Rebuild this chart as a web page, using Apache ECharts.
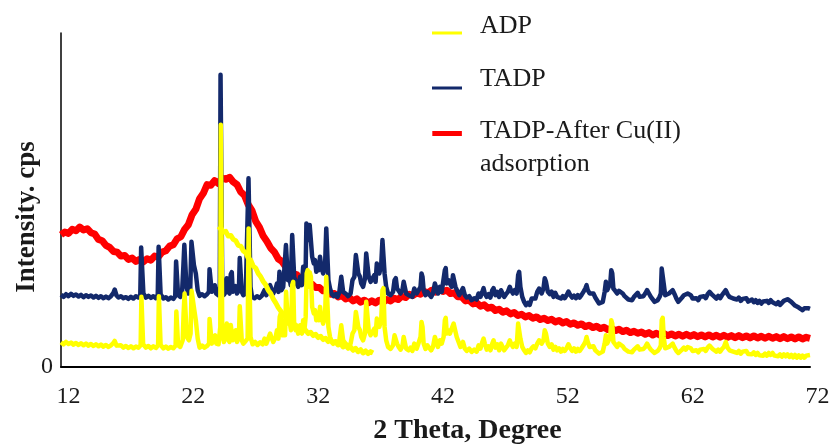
<!DOCTYPE html>
<html>
<head>
<meta charset="utf-8">
<title>XRD patterns</title>
<script src="https://cdn.jsdelivr.net/npm/echarts@6/dist/echarts.min.js"></script>
<style>
  html, body { margin: 0; padding: 0; background: #ffffff; }
  #chart { width: 829px; height: 445px; }
</style>
</head>
<body>
<div id="chart"></div>
<script>
// 2θ tick labels
const xTicks = [12, 22, 32, 42, 52, 62, 72];

// Series names
const names = ['ADP', 'TADP', 'TADP-After Cu(II) adsorption'];

// TADP-After Cu(II) adsorption: broad amorphous halo, [2θ, intensity]
const redPattern = [
  [12.0,39.6],[12.3,40.4],[12.6,40.0],[12.9,41.2],[13.2,40.8],[13.5,41.9],[13.8,41.0],[14.1,41.4],[14.4,40.2],[14.7,39.8],
  [15.0,38.2],[15.3,37.8],[15.6,36.4],[15.9,35.8],[16.2,34.6],[16.5,34.4],[16.8,33.2],[17.1,33.4],[17.4,32.2],[17.7,32.6],
  [18.0,31.6],[18.3,32.2],[18.6,31.5],[18.9,32.4],[19.2,32.0],[19.5,33.2],[19.8,33.0],[20.1,34.4],[20.4,34.8],[20.7,36.2],
  [21.0,36.6],[21.3,38.4],[21.6,39.0],[21.9,41.2],[22.2,42.6],[22.5,45.6],[22.8,47.2],[23.1,50.4],[23.4,52.0],[23.7,54.6],
  [24.0,54.4],[24.3,55.8],[24.6,55.0],[24.9,56.6],[25.2,56.2],[25.5,56.8],[25.8,55.4],[26.1,54.6],[26.4,52.4],[26.7,51.4],
  [27.0,48.6],[27.3,46.8],[27.6,43.6],[27.9,41.8],[28.2,39.2],[28.5,37.6],[28.8,35.6],[29.1,34.4],[29.4,32.4],[29.7,31.6],
  [30.0,30.0],[30.3,29.4],[30.6,28.0],[30.9,27.6],[31.2,26.4],[31.5,26.2],[31.8,25.0],[32.1,24.8],[32.4,23.8],[32.7,23.8],
  [33.0,22.8],[33.3,22.8],[33.6,21.8],[33.9,22.0],[34.2,21.0],[34.5,21.4],[34.8,20.4],[35.1,20.8],[35.4,19.8],[35.7,20.4],
  [36.0,19.4],[36.3,20.0],[36.6,19.2],[36.9,19.8],[37.2,19.2],[37.5,20.0],[37.8,19.4],[38.1,20.2],[38.4,19.8],[38.7,20.6],
  [39.0,20.2],[39.3,21.2],[39.6,20.8],[39.9,21.8],[40.2,21.4],[40.5,22.2],[40.8,21.8],[41.1,22.6],[41.4,22.2],[41.7,23.0],
  [42.0,22.4],[42.3,23.2],[42.6,22.6],[42.9,23.0],[43.2,22.0],[43.5,22.2],[43.8,21.0],[44.1,21.0],[44.4,19.8],[44.7,20.0],
  [45.0,18.9],[45.3,19.2],[45.6,18.2],[45.9,18.6],[46.2,17.6],[46.5,17.9],[46.8,16.9],[47.1,17.3],[47.4,16.4],[47.7,16.8],
  [48.0,15.9],[48.3,16.3],[48.6,15.4],[48.9,15.8],[49.2,15.0],[49.5,15.4],[49.8,14.6],[50.1,15.0],[50.4,14.2],[50.7,14.6],
  [51.0,13.9],[51.3,14.3],[51.6,13.5],[51.9,13.9],[52.2,13.2],[52.5,13.6],[52.8,12.8],[53.1,13.2],[53.4,12.5],[53.7,12.9],
  [54.0,12.1],[54.3,12.5],[54.6,11.8],[54.9,12.2],[55.2,11.5],[55.5,11.9],[55.8,11.2],[56.1,11.6],[56.4,10.9],[56.7,11.3],
  [57.0,10.6],[57.3,11.0],[57.6,10.3],[57.9,10.7],[58.2,10.1],[58.5,10.5],[58.8,9.8],[59.1,10.3],[59.4,9.6],[59.7,10.1],
  [60.0,9.5],[60.3,10.0],[60.6,9.4],[60.9,9.9],[61.2,9.3],[61.5,9.8],[61.8,9.2],[62.1,9.8],[62.4,9.2],[62.7,9.7],
  [63.0,9.1],[63.3,9.6],[63.6,9.0],[63.9,9.6],[64.2,9.0],[64.5,9.5],[64.8,8.9],[65.1,9.5],[65.4,8.9],[65.7,9.4],
  [66.0,8.8],[66.3,9.4],[66.6,8.8],[66.9,9.3],[67.2,8.7],[67.5,9.3],[67.8,8.7],[68.1,9.2],[68.4,8.6],[68.7,9.2],
  [69.0,8.6],[69.3,9.1],[69.6,8.5],[69.9,9.1],[70.2,8.5],[70.5,9.0],[70.8,8.4],[71.1,9.0],[71.4,8.4],[71.7,8.9],[72.0,8.6]
];

// TADP pattern, [2θ, intensity]
const tadpPattern = [
  [12.0,21.6],[12.2,21.0],[12.4,21.8],[12.6,21.2],[12.8,21.9],[13.0,21.3],[13.2,21.7],[13.4,21.1],[13.6,21.6],[13.8,20.9],
  [14.0,21.5],[14.2,21.0],[14.4,21.4],[14.6,20.8],[14.8,21.3],[15.0,20.7],[15.2,21.2],[15.4,20.6],[15.6,21.1],[15.8,20.6],
  [16.0,21.2],[16.2,22.2],[16.3,23.2],[16.45,21.4],[16.6,20.8],[16.8,21.2],[17.0,20.6],[17.2,20.9],[17.4,20.4],[17.6,21.0],
  [17.8,20.5],[18.0,21.2],[18.2,20.8],[18.35,21.5],[18.42,35.8],[18.52,36.2],[18.6,22.0],[18.8,20.8],[19.0,21.3],[19.2,20.7],
  [19.4,21.2],[19.6,20.6],[19.75,21.6],[19.82,36.0],[19.9,36.5],[19.98,21.8],[20.2,20.5],[20.4,20.9],[20.6,20.2],[20.8,20.8],
  [21.0,20.4],[21.15,21.2],[21.22,31.6],[21.3,32.0],[21.38,21.6],[21.55,21.0],[21.7,22.5],[21.8,30.0],[21.88,36.6],[21.96,37.0],
  [22.05,24.0],[22.2,22.0],[22.35,23.0],[22.45,37.5],[22.55,38.0],[22.65,30.5],[22.8,28.0],[22.95,23.0],[23.1,21.3],[23.3,21.8],
  [23.5,21.2],[23.7,21.8],[23.85,22.5],[23.9,29.3],[24.0,29.6],[24.08,22.5],[24.25,23.5],[24.32,24.5],[24.42,22.0],[24.6,21.5],
  [24.72,24.0],[24.78,87.5],[24.86,88.0],[24.92,23.0],[25.05,21.6],[25.2,22.5],[25.28,26.6],[25.36,22.8],[25.5,22.0],[25.6,27.8],
  [25.68,28.4],[25.76,22.5],[25.9,22.8],[26.0,24.2],[26.1,22.0],[26.25,23.0],[26.32,32.6],[26.4,33.0],[26.48,22.5],[26.6,21.5],
  [26.8,22.0],[26.95,22.5],[27.02,56.5],[27.1,57.0],[27.18,24.0],[27.3,21.0],[27.5,20.6],[27.7,21.2],[27.9,20.7],[28.1,21.4],
  [28.3,23.0],[28.45,21.5],[28.6,22.0],[28.75,24.5],[28.85,23.5],[29.0,22.0],[29.2,23.5],[29.3,25.0],[29.42,22.5],[29.5,28.5],
  [29.58,29.0],[29.66,23.0],[29.8,24.0],[29.95,23.5],[30.02,36.5],[30.1,37.0],[30.18,26.0],[30.3,27.0],[30.4,24.5],[30.52,39.5],
  [30.6,40.0],[30.68,27.0],[30.8,25.5],[30.9,26.0],[31.0,24.0],[31.15,27.0],[31.3,24.5],[31.4,30.0],[31.5,26.0],[31.6,30.0],
  [31.66,43.0],[31.74,43.4],[31.84,38.0],[31.92,42.5],[32.02,42.0],[32.12,33.0],[32.25,31.0],[32.35,32.0],[32.45,28.5],[32.55,30.0],
  [32.65,29.0],[32.75,33.0],[32.85,30.0],[33.0,28.0],[33.15,30.0],[33.25,41.5],[33.33,42.0],[33.42,26.0],[33.55,23.5],[33.7,21.8],
  [33.85,21.2],[34.0,21.8],[34.15,21.0],[34.3,22.5],[34.45,27.0],[34.52,27.5],[34.6,22.5],[34.8,22.0],[35.0,21.2],[35.2,22.0],
  [35.35,26.0],[35.5,27.0],[35.62,33.5],[35.72,34.0],[35.82,28.0],[35.95,27.0],[36.05,25.0],[36.2,24.0],[36.35,26.5],[36.45,34.0],
  [36.55,34.5],[36.65,27.0],[36.8,25.5],[36.95,26.0],[37.1,27.5],[37.2,25.5],[37.3,31.0],[37.38,31.5],[37.5,28.0],[37.65,30.5],
  [37.75,38.0],[37.83,38.0],[37.92,28.0],[38.05,24.0],[38.2,22.0],[38.4,21.5],[38.6,22.5],[38.72,26.0],[38.82,26.6],[38.92,23.5],
  [39.05,23.0],[39.2,22.0],[39.35,23.0],[39.45,25.5],[39.55,25.0],[39.65,22.0],[39.85,21.5],[40.0,22.0],[40.15,21.0],[40.3,23.5],
  [40.4,24.0],[40.5,22.0],[40.65,21.5],[40.8,24.0],[40.88,28.0],[40.96,27.0],[41.05,23.0],[41.2,21.5],[41.35,22.5],[41.5,23.0],
  [41.65,21.0],[41.8,22.0],[41.95,25.0],[42.05,24.5],[42.2,22.0],[42.35,24.0],[42.5,22.5],[42.65,23.0],[42.75,29.0],[42.82,29.6],
  [42.9,25.0],[43.05,26.0],[43.15,25.0],[43.3,24.0],[43.4,27.5],[43.48,27.0],[43.6,24.0],[43.75,23.5],[43.9,21.5],[44.05,22.0],
  [44.2,23.6],[44.35,21.5],[44.5,20.8],[44.7,21.2],[44.9,20.0],[45.1,20.6],[45.3,20.2],[45.45,22.0],[45.6,21.0],[45.75,22.5],
  [45.85,23.6],[45.95,22.0],[46.1,21.0],[46.25,21.8],[46.4,20.8],[46.55,23.0],[46.65,23.6],[46.8,21.5],[46.95,22.5],[47.1,21.0],
  [47.25,23.0],[47.35,22.5],[47.5,21.0],[47.65,21.8],[47.8,22.5],[47.95,24.0],[48.05,23.0],[48.2,22.0],[48.35,23.0],[48.5,22.0],
  [48.62,27.5],[48.7,28.5],[48.8,24.0],[48.95,21.0],[49.1,19.5],[49.25,18.5],[49.4,19.2],[49.55,18.6],[49.7,20.5],[49.85,21.0],
  [50.0,20.5],[50.15,22.5],[50.3,23.5],[50.4,24.0],[50.5,22.0],[50.65,23.5],[50.75,26.6],[50.85,25.5],[51.0,22.5],[51.15,21.8],
  [51.3,22.6],[51.45,21.0],[51.6,22.2],[51.75,21.0],[51.9,21.5],[52.05,20.5],[52.2,21.2],[52.35,20.6],[52.5,21.5],[52.65,22.6],
  [52.8,21.5],[52.95,20.8],[53.1,21.4],[53.25,20.6],[53.4,21.5],[53.55,20.8],[53.7,21.6],[53.85,22.5],[54.0,23.5],[54.1,24.5],
  [54.2,23.0],[54.35,22.0],[54.5,21.5],[54.65,22.0],[54.8,20.8],[54.95,20.3],[55.1,19.0],[55.25,18.5],[55.4,19.5],[55.55,22.5],
  [55.65,25.5],[55.75,23.0],[55.88,22.5],[56.0,25.0],[56.08,29.0],[56.16,28.0],[56.25,23.5],[56.4,22.8],[56.55,22.0],[56.7,22.8],
  [56.85,23.2],[57.0,22.0],[57.15,21.2],[57.3,21.0],[57.45,20.2],[57.6,20.6],[57.75,20.0],[57.9,21.0],[58.05,21.5],[58.2,22.2],
  [58.35,21.0],[58.5,20.5],[58.65,21.2],[58.8,22.0],[58.95,23.0],[59.1,22.0],[59.25,21.0],[59.4,20.5],[59.55,19.5],[59.65,19.0],
  [59.8,20.0],[59.95,21.0],[60.05,22.0],[60.12,29.5],[60.2,30.0],[60.28,25.0],[60.4,21.5],[60.55,21.0],[60.7,22.0],[60.85,22.5],
  [61.0,23.0],[61.15,21.8],[61.3,20.5],[61.45,19.5],[61.6,20.0],[61.75,20.8],[61.9,21.5],[62.05,21.0],[62.2,22.0],[62.3,22.5],
  [62.45,21.5],[62.6,20.5],[62.75,20.0],[62.9,20.6],[63.05,20.0],[63.2,21.0],[63.35,20.5],[63.5,21.2],[63.65,20.6],[63.8,21.8],
  [63.95,22.5],[64.05,23.0],[64.2,21.5],[64.35,22.0],[64.5,20.5],[64.65,21.3],[64.8,20.6],[64.95,21.5],[65.1,22.0],[65.25,23.0],
  [65.4,21.8],[65.55,21.0],[65.7,21.5],[65.85,20.5],[66.0,21.0],[66.15,20.2],[66.3,20.8],[66.45,19.8],[66.6,20.4],[66.75,20.0],
  [66.9,20.6],[67.05,19.6],[67.2,19.5],[67.35,20.2],[67.5,19.4],[67.65,20.0],[67.8,19.2],[67.95,19.8],[68.1,19.0],[68.25,19.6],
  [68.4,19.1],[68.55,19.8],[68.7,19.2],[68.85,20.0],[69.0,19.4],[69.15,19.9],[69.3,18.8],[69.45,19.4],[69.6,18.6],[69.75,19.2],
  [69.9,19.8],[70.05,19.6],[70.2,20.3],[70.35,20.6],[70.5,19.5],[70.65,19.0],[70.8,18.4],[70.95,18.8],[71.1,17.8],[71.25,17.4],
  [71.4,17.0],[71.55,17.6],[71.7,17.2],[71.85,17.6],[72.0,17.4]
];

// ADP pattern, [2θ, intensity]
const adpPattern = [
  [12.0,7.4],[12.2,6.8],[12.4,7.5],[12.6,6.9],[12.8,7.3],[13.0,6.7],[13.2,7.2],[13.4,6.6],[13.6,7.1],[13.8,6.5],
  [14.0,7.0],[14.2,6.4],[14.4,6.9],[14.6,6.3],[14.8,6.8],[15.0,6.2],[15.2,6.7],[15.4,6.1],[15.6,6.6],[15.8,6.0],
  [16.0,6.5],[16.2,7.2],[16.3,7.8],[16.45,6.4],[16.6,6.0],[16.8,6.5],[17.0,5.8],[17.2,6.3],[17.4,5.7],[17.6,6.2],
  [17.8,5.6],[18.0,6.1],[18.2,5.8],[18.38,6.5],[18.44,21.0],[18.52,21.5],[18.58,6.8],[18.8,5.8],[19.0,6.3],[19.2,5.6],
  [19.4,6.2],[19.6,5.7],[19.78,6.5],[19.84,21.2],[19.92,21.5],[19.98,6.6],[20.2,5.6],[20.4,6.1],[20.6,5.5],[20.8,6.0],
  [21.0,5.6],[21.18,6.4],[21.24,16.6],[21.32,17.0],[21.38,6.5],[21.55,6.0],[21.75,8.0],[21.82,16.0],[21.9,22.0],[21.98,21.5],
  [22.08,9.0],[22.25,8.0],[22.38,10.0],[22.46,22.8],[22.54,23.0],[22.64,18.0],[22.8,14.0],[22.95,8.5],[23.1,5.8],[23.3,6.4],
  [23.5,5.8],[23.7,6.3],[23.86,7.0],[23.9,14.4],[24.0,14.7],[24.08,7.0],[24.25,8.5],[24.35,9.5],[24.45,7.0],[24.62,6.8],
  [24.76,12.0],[24.8,72.5],[24.86,73.0],[24.92,10.0],[25.05,7.5],[25.2,9.0],[25.28,13.0],[25.36,8.5],[25.5,7.5],[25.6,12.6],
  [25.68,13.0],[25.76,8.0],[25.9,8.5],[26.0,11.0],[26.1,7.5],[26.25,9.0],[26.32,18.2],[26.4,18.5],[26.48,8.0],[26.6,7.0],
  [26.8,7.8],[26.95,8.5],[27.03,41.5],[27.1,42.0],[27.18,9.0],[27.35,6.8],[27.55,7.5],[27.75,6.6],[27.95,7.4],[28.15,6.8],
  [28.3,8.5],[28.45,7.0],[28.6,7.5],[28.75,10.0],[28.85,9.0],[29.0,7.5],[29.2,9.0],[29.3,11.0],[29.42,8.5],[29.52,15.0],
  [29.6,16.0],[29.68,9.5],[29.8,10.0],[29.95,9.5],[30.03,22.5],[30.1,23.0],[30.18,13.0],[30.3,14.0],[30.42,11.0],[30.52,24.5],
  [30.6,25.5],[30.68,12.0],[30.8,11.0],[30.9,12.0],[31.0,10.0],[31.15,12.5],[31.3,10.0],[31.4,14.0],[31.5,11.0],[31.6,15.0],
  [31.68,28.0],[31.76,29.0],[31.84,24.0],[31.92,28.4],[32.02,27.0],[32.12,18.0],[32.25,16.0],[32.35,17.0],[32.45,14.0],[32.55,15.5],
  [32.65,14.0],[32.75,18.0],[32.85,15.0],[33.0,13.0],[33.15,15.0],[33.25,27.0],[33.33,27.5],[33.42,12.0],[33.55,9.0],[33.7,7.5],
  [33.85,7.0],[34.0,7.6],[34.15,6.8],[34.3,8.0],[34.45,12.5],[34.52,13.0],[34.6,8.0],[34.8,7.0],[35.0,6.2],[35.2,7.0],
  [35.35,10.0],[35.5,11.0],[35.62,16.5],[35.72,17.0],[35.82,12.0],[35.95,11.0],[36.05,9.0],[36.2,8.0],[36.35,10.0],[36.45,19.5],
  [36.55,20.0],[36.65,11.0],[36.8,9.5],[36.95,10.0],[37.1,11.5],[37.2,9.5],[37.3,14.5],[37.38,15.0],[37.5,12.0],[37.65,14.0],
  [37.75,23.0],[37.83,23.6],[37.92,12.0],[38.05,8.0],[38.2,6.0],[38.4,5.4],[38.6,6.5],[38.72,9.5],[38.82,10.0],[38.92,7.0],
  [39.05,6.0],[39.2,5.2],[39.35,6.2],[39.45,9.0],[39.55,8.5],[39.65,5.5],[39.85,5.0],[40.0,5.8],[40.15,4.8],[40.3,7.0],
  [40.4,7.5],[40.5,5.5],[40.65,5.0],[40.8,9.0],[40.88,13.5],[40.96,12.0],[41.05,7.0],[41.2,5.4],[41.35,6.5],[41.5,7.0],
  [41.65,5.0],[41.8,6.0],[41.95,9.0],[42.05,8.5],[42.2,6.0],[42.35,8.0],[42.5,7.0],[42.65,9.0],[42.75,14.0],[42.82,14.7],
  [42.9,10.0],[43.05,11.0],[43.15,10.0],[43.3,9.5],[43.45,13.0],[43.55,12.5],[43.7,9.0],[43.85,7.5],[44.0,6.0],[44.2,7.5],
  [44.35,5.5],[44.5,4.8],[44.7,5.5],[44.9,4.5],[45.1,5.2],[45.3,4.6],[45.45,6.5],[45.6,5.5],[45.75,7.5],[45.85,8.5],
  [45.95,7.0],[46.1,5.2],[46.25,6.2],[46.4,5.0],[46.55,7.0],[46.65,8.0],[46.8,5.8],[46.95,6.8],[47.1,5.0],[47.25,7.0],
  [47.35,6.5],[47.5,5.0],[47.65,5.8],[47.8,6.5],[47.95,8.0],[48.05,7.0],[48.2,6.0],[48.35,7.0],[48.5,6.0],[48.62,13.0],
  [48.7,13.5],[48.8,8.5],[48.95,6.0],[49.1,5.0],[49.25,4.2],[49.4,5.0],[49.55,4.4],[49.7,5.6],[49.85,6.2],[50.0,5.6],
  [50.15,7.0],[50.3,8.0],[50.4,8.5],[50.5,7.0],[50.65,8.0],[50.75,11.0],[50.85,10.0],[51.0,7.0],[51.15,6.0],[51.3,6.8],
  [51.45,5.2],[51.6,6.0],[51.75,5.0],[51.9,5.6],[52.05,4.6],[52.2,5.4],[52.35,4.8],[52.5,5.6],[52.65,6.8],[52.8,5.6],
  [52.95,4.8],[53.1,5.6],[53.25,4.6],[53.4,5.4],[53.55,4.8],[53.7,5.6],[53.85,6.5],[54.0,7.5],[54.1,9.0],[54.2,7.5],
  [54.35,6.0],[54.5,5.6],[54.65,6.2],[54.8,5.0],[54.95,4.6],[55.1,4.0],[55.25,3.8],[55.4,4.6],[55.55,7.0],[55.65,9.5],
  [55.75,7.0],[55.88,6.5],[56.0,9.0],[56.08,14.0],[56.16,13.0],[56.25,7.5],[56.4,7.0],[56.55,6.0],[56.7,7.0],[56.85,7.5],
  [57.0,6.2],[57.15,5.4],[57.3,5.2],[57.45,4.6],[57.6,5.0],[57.75,4.4],[57.9,5.2],[58.05,5.6],[58.2,6.2],[58.35,5.2],
  [58.5,4.8],[58.65,5.4],[58.8,6.0],[58.95,7.0],[59.1,6.0],[59.25,5.2],[59.4,4.8],[59.55,4.2],[59.65,4.0],[59.8,4.8],
  [59.95,5.6],[60.05,6.5],[60.12,14.0],[60.2,14.7],[60.28,9.0],[60.4,5.6],[60.55,5.2],[60.7,6.0],[60.85,6.4],[61.0,7.0],
  [61.15,5.8],[61.3,4.8],[61.45,4.2],[61.6,4.6],[61.75,5.2],[61.9,5.8],[62.05,5.2],[62.2,6.0],[62.3,6.5],[62.45,5.6],
  [62.6,4.8],[62.75,4.4],[62.9,5.0],[63.05,4.4],[63.2,5.2],[63.35,4.8],[63.5,5.4],[63.65,4.8],[63.8,5.8],[63.95,6.4],
  [64.05,6.8],[64.2,5.4],[64.35,5.8],[64.5,4.6],[64.65,5.2],[64.8,4.6],[64.95,5.4],[65.1,6.0],[65.25,7.5],[65.4,5.8],
  [65.55,5.0],[65.7,5.4],[65.85,4.6],[66.0,5.0],[66.15,4.2],[66.3,4.8],[66.45,4.0],[66.6,4.6],[66.75,4.2],[66.9,4.8],
  [67.05,3.9],[67.2,4.4],[67.35,3.8],[67.5,4.4],[67.65,3.6],[67.8,4.2],[67.95,3.5],[68.1,4.0],[68.25,3.4],[68.4,4.0],
  [68.55,3.4],[68.7,4.2],[68.85,3.6],[69.0,4.2],[69.15,3.4],[69.3,3.9],[69.45,3.2],[69.6,3.8],[69.75,3.1],[69.9,3.8],
  [70.05,3.2],[70.2,3.8],[70.35,3.0],[70.5,3.6],[70.65,2.9],[70.8,3.6],[70.95,2.8],[71.1,3.5],[71.25,2.8],[71.4,3.4],
  [71.55,2.8],[71.7,3.4],[71.85,3.0],[72.0,3.6]
];

// ADP: second trace of the broad decay after the main reflection
const adpDecay = [
  [24.6,41.0],[24.8,41.6],[25.0,40.4],[25.2,40.6],[25.4,39.2],[25.6,39.4],[25.8,38.2],[26.0,37.8],[26.2,36.4],[26.4,36.2],
  [26.6,34.8],[26.8,34.2],[27.0,32.6],[27.2,32.0],[27.4,30.2],[27.6,29.6],[27.8,28.0],[28.0,27.0],[28.2,25.6],[28.4,24.6],
  [28.6,23.0],[28.8,22.0],[29.0,20.4],[29.2,19.2],[29.4,17.8],[29.6,16.8],[29.8,15.6],[30.0,15.0],[30.2,13.8],[30.4,13.6],
  [30.6,12.6],[30.8,12.6],[31.0,11.6],[31.2,11.8],[31.4,10.8],[31.6,11.0],[31.8,10.0],[32.0,10.4],[32.2,9.4],[32.4,9.8],
  [32.6,8.8],[32.8,9.2],[33.0,8.2],[33.2,8.6],[33.4,7.6],[33.6,8.0],[33.8,7.0],[34.0,7.6],[34.2,6.6],[34.4,7.0],
  [34.6,6.0],[34.8,6.6],[35.0,5.6],[35.2,6.0],[35.4,5.0],[35.6,5.6],[35.8,4.6],[36.0,5.2],[36.2,4.2],[36.4,4.8],
  [36.6,4.0],[36.8,4.6],[37.0,4.2]
];

const COLORS = { adp: '#FFFF00', tadp: '#13296B', cu: '#FF0000' };
const SERIF = '"Liberation Serif", "Times New Roman", serif';
const TEXT = '#1a1a1a';

// Legend keys: short bars placed inside a 43x34 box so the label sits to their right
const legendIcons = [
  'path://M0,0 M0,22.6 L30,22.6 L30,25.4 L0,25.4 Z M43,34',
  'path://M0,0 M0,24.6 L30,24.6 L30,27.4 L0,27.4 Z M43,34',
  'path://M0,0 M0,-0.5 L30,-0.5 L30,4.5 L0,4.5 Z M43,34'
];

const chart = echarts.init(document.getElementById('chart'), null, { renderer: 'canvas' });

const lineBase = { type: 'line', showSymbol: false, symbol: 'none', sampling: null };

chart.setOption({
  animation: false,
  backgroundColor: '#ffffff',
  textStyle: { fontFamily: SERIF },
  grid: { left: 61, right: 19, top: 33, bottom: 78, containLabel: false, outerBoundsMode: 'none' },
  legend: {
    orient: 'vertical',
    left: 432,
    top: 9,
    padding: 0,
    itemGap: 19,
    itemWidth: 43,
    itemHeight: 34,
    selectedMode: false,
    itemStyle: { borderWidth: 0 },
    textStyle: { fontFamily: SERIF, fontSize: 26, lineHeight: 33, color: TEXT },
    formatter: n => n === names[2] ? 'TADP-After Cu(II)\nadsorption' : n,
    data: [
      { name: names[0], icon: legendIcons[0], itemStyle: { color: COLORS.adp, borderWidth: 0 } },
      { name: names[1], icon: legendIcons[1], itemStyle: { color: COLORS.tadp, borderWidth: 0 } },
      { name: names[2], icon: legendIcons[2], itemStyle: { color: COLORS.cu, borderWidth: 0 } }
    ]
  },
  xAxis: {
    type: 'value',
    min: xTicks[0],
    max: xTicks[xTicks.length - 1],
    interval: 10,
    name: '2 Theta, Degree',
    nameLocation: 'middle',
    nameGap: 50,
    nameMoveOverlap: false,
    nameTextStyle: { fontFamily: SERIF, fontSize: 28, fontWeight: 'bold', color: TEXT, padding: [0, 0, 0, 64] },
    axisLine: { show: true, lineStyle: { color: '#000', width: 2 } },
    axisTick: { show: false },
    splitLine: { show: false },
    axisLabel: {
      fontFamily: SERIF, fontSize: 24, color: TEXT, margin: 18, padding: [0, 0, 0, 15],
      showMinLabel: true, showMaxLabel: true,
      formatter: v => xTicks.includes(v) ? String(v) : ''
    }
  },
  yAxis: {
    type: 'value',
    min: 0,
    max: 100,
    interval: 100,
    name: 'Intensity. cps',
    nameLocation: 'middle',
    nameRotate: 90,
    nameGap: 20,
    nameMoveOverlap: false,
    nameTextStyle: { fontFamily: SERIF, fontSize: 27, fontWeight: 'bold', color: TEXT, padding: [0, 34, 0, 0] },
    axisLine: { show: true, lineStyle: { color: '#000', width: 1.5 } },
    axisTick: { show: false },
    splitLine: { show: false },
    axisLabel: {
      fontFamily: SERIF, fontSize: 24, color: TEXT, margin: 8, padding: [12, 0, 0, 0],
      formatter: v => v === 0 ? '0' : ''
    }
  },
  series: [
    Object.assign({}, lineBase, {
      name: names[2], data: redPattern, z: 2,
      lineStyle: { color: COLORS.cu, width: 7, join: 'round' }, itemStyle: { color: COLORS.cu }
    }),
    Object.assign({}, lineBase, {
      name: names[1], data: tadpPattern, z: 3,
      lineStyle: { color: COLORS.tadp, width: 4.5, join: 'round' }, itemStyle: { color: COLORS.tadp }
    }),
    Object.assign({}, lineBase, {
      name: names[0], data: adpPattern, z: 4,
      lineStyle: { color: COLORS.adp, width: 4.5, join: 'round' }, itemStyle: { color: COLORS.adp }
    }),
    Object.assign({}, lineBase, {
      name: names[0], data: adpDecay, z: 4,
      lineStyle: { color: COLORS.adp, width: 5, join: 'round' }, itemStyle: { color: COLORS.adp }
    })
  ]
});
</script>
</body>
</html>
